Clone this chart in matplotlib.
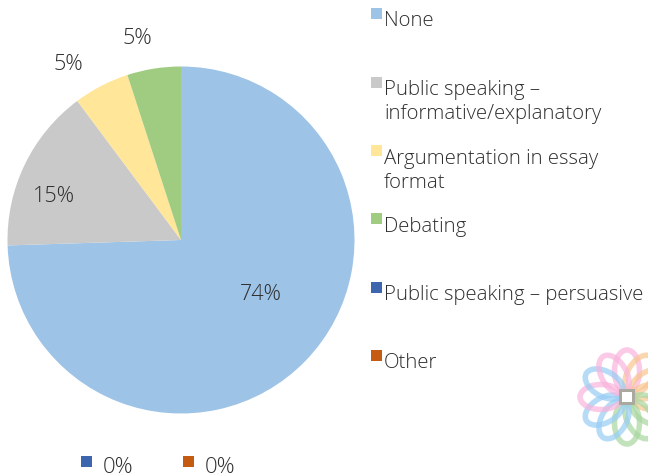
import numpy as np
import matplotlib
matplotlib.use("Agg")
import matplotlib.pyplot as plt
from matplotlib.patches import Ellipse, Rectangle

categories = ["None", "Public speaking –\ninformative/explanatory",
              "Argumentation in essay\nformat", "Debating",
              "Public speaking – persuasive", "Other"]
values = [74.5, 15.3, 5.2, 5.0, 0, 0]
value_labels = ["74%", "15%", "5%", "5%", "0%", "0%"]
colors = ["#9DC3E6", "#C9C9C9", "#FFE699", "#A0CC82", "#3D66AE", "#C55A11"]

FONT = "Open Sans"
W, H = 648, 477
plt.rcParams["font.family"] = [FONT, "DejaVu Sans"]
TEXT = "#2E2E2E"
WEIGHT = "light"
SIZE = 14.7

fig = plt.figure(figsize=(W / 100, H / 100), dpi=100)
ax = fig.add_axes([0, 0, 1, 1])

ax.pie(values, colors=colors, startangle=90, counterclock=False,
       center=(181, H - 241), radius=173.5, wedgeprops=dict(linewidth=0))
ax.set_xlim(0, W)
ax.set_ylim(0, H)
ax.set_aspect("equal")
ax.axis("off")

# pie value labels
label_pos = [(261, 294), (54, 196), (68, 65), (137, 38)]
for (x, y), s in zip(label_pos, value_labels[:4]):
    ax.text(x, H - y, s, ha="center", va="center", fontsize=15.5, color=TEXT,
            fontweight=WEIGHT)

# legend
legend_y = [14, 83, 151, 219, 288, 356]
text_y = [21, 90, 159, 227, 295, 363]
for name, c, sy, ty in zip(categories, colors, legend_y, text_y):
    ax.add_patch(Rectangle((371, H - sy - 5.5), 10.5, 10.5, color=c, lw=0))
    ax.text(384, H - ty + (0 if "\n" not in name else -12), name, ha="left",
            va="center", fontsize=SIZE, color=TEXT, linespacing=1.25,
            fontweight=WEIGHT)

# zero labels below the pie
for x0, i in [(81, 4), (183, 5)]:
    ax.add_patch(Rectangle((x0, H - 468), 11, 11, color=colors[i], lw=0))
    ax.text(x0 + 22, H - 468, value_labels[i], ha="left", va="center",
            fontsize=16, color=TEXT, fontweight=WEIGHT)

# decorative logo, clipped by the right edge of the figure
logo_colors = ["#F9B4DC", "#F9C590", "#F9C590", "#F9C590", "#A8D79F", "#A8D79F",
               "#A8D79F", "#98CDF5", "#98CDF5", "#F9B4DC", "#98CDF5", "#F9B4DC"]
for k, c in enumerate(logo_colors):
    a = np.deg2rad(90 - 30 * k)
    cx, cy = 627 + 26 * np.cos(a), H - 398 + 26 * np.sin(a)
    ax.add_patch(Ellipse((cx, cy), 42, 25, angle=np.rad2deg(a), fill=False,
                         edgecolor=c, lw=4, alpha=0.7, clip_on=True))
ax.add_patch(Rectangle((619, H - 406), 16, 16, color="#A9A9A0", lw=0, zorder=5))
ax.add_patch(Rectangle((622, H - 403), 10, 10, color="white", lw=0, zorder=6))

fig.savefig("out.png", dpi=100)
